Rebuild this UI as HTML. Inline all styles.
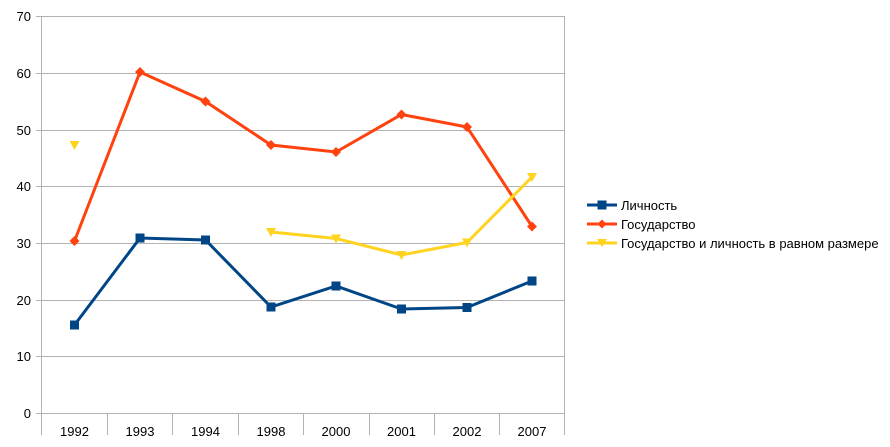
<!DOCTYPE html><html><head><meta charset="utf-8"><style>body{margin:0;background:#fff}svg{display:block}text{font-family:"Liberation Sans",sans-serif;font-size:13px;fill:#000}</style></head><body>
<svg width="890" height="447" viewBox="0 0 890 447">
<g stroke="#b3b3b3" stroke-width="1">
<line x1="36" y1="16.5" x2="565" y2="16.5"/><line x1="36" y1="73.5" x2="565" y2="73.5"/><line x1="36" y1="130.5" x2="565" y2="130.5"/><line x1="36" y1="186.5" x2="565" y2="186.5"/><line x1="36" y1="243.5" x2="565" y2="243.5"/><line x1="36" y1="300.5" x2="565" y2="300.5"/><line x1="36" y1="356.5" x2="565" y2="356.5"/><line x1="36" y1="413.5" x2="565" y2="413.5"/>
<line x1="41.5" y1="16" x2="41.5" y2="435"/>
<line x1="107.5" y1="413" x2="107.5" y2="435"/><line x1="172.5" y1="413" x2="172.5" y2="435"/><line x1="238.5" y1="413" x2="238.5" y2="435"/><line x1="303.5" y1="413" x2="303.5" y2="435"/><line x1="369.5" y1="413" x2="369.5" y2="435"/><line x1="434.5" y1="413" x2="434.5" y2="435"/><line x1="499.5" y1="413" x2="499.5" y2="435"/><line x1="564.5" y1="16" x2="564.5" y2="435"/>
</g>
<g text-anchor="end"><text x="31" y="21">70</text><text x="31" y="78">60</text><text x="31" y="135">50</text><text x="31" y="191">40</text><text x="31" y="248">30</text><text x="31" y="305">20</text><text x="31" y="361">10</text><text x="31" y="418">0</text></g>
<g text-anchor="middle"><text x="74.5" y="436">1992</text><text x="140" y="436">1993</text><text x="205.5" y="436">1994</text><text x="271" y="436">1998</text><text x="336" y="436">2000</text><text x="401.5" y="436">2001</text><text x="467" y="436">2002</text><text x="532" y="436">2007</text></g>
<polyline fill="none" stroke="#004586" stroke-width="3" points="74.5,325 140,238 205.5,240 271,307 336,286 401.5,309 467,307.5 532,281"/>
<g fill="#004586"><rect x="70" y="320.5" width="9" height="9"/><rect x="135.5" y="233.5" width="9" height="9"/><rect x="201" y="235.5" width="9" height="9"/><rect x="266.5" y="302.5" width="9" height="9"/><rect x="331.5" y="281.5" width="9" height="9"/><rect x="397" y="304.5" width="9" height="9"/><rect x="462.5" y="303" width="9" height="9"/><rect x="527.5" y="276.5" width="9" height="9"/></g>
<polyline fill="none" stroke="#ff420e" stroke-width="3" points="74.5,241 140,72 205.5,101.5 271,145 336,152 401.5,114.5 467,127 532,226.5"/>
<g fill="#ff420e"><path d="M74.5,236l5,5-5,5-5-5z"/><path d="M140,67l5,5-5,5-5-5z"/><path d="M205.5,96.5l5,5-5,5-5-5z"/><path d="M271,140l5,5-5,5-5-5z"/><path d="M336,147l5,5-5,5-5-5z"/><path d="M401.5,109.5l5,5-5,5-5-5z"/><path d="M467,122l5,5-5,5-5-5z"/><path d="M532,221.5l5,5-5,5-5-5z"/></g>
<polyline fill="none" stroke="#ffd320" stroke-width="3" points="271,232 336,238.5 401.5,255 467,242.5 532,177"/>
<g fill="#ffd320"><path d="M69.5,141h10l-5,9z"/><path d="M266,228h10l-5,9z"/><path d="M331,234.5h10l-5,9z"/><path d="M396.5,251h10l-5,9z"/><path d="M462,238.5h10l-5,9z"/><path d="M527,173h10l-5,9z"/></g>
<line x1="587" y1="205" x2="617" y2="205" stroke="#004586" stroke-width="3"/><rect x="597.5" y="200.5" width="9" height="9" fill="#004586"/>
<line x1="587" y1="224" x2="617" y2="224" stroke="#ff420e" stroke-width="3"/><path d="M602,219.5l4.5,4.5-4.5,4.5-4.5-4.5z" fill="#ff420e"/>
<line x1="587" y1="243" x2="617" y2="243" stroke="#ffd320" stroke-width="3"/><path d="M597,239h10l-5,8z" fill="#ffd320"/>
<text x="621" y="210">Личность</text><text x="621" y="229">Государство</text><text x="621" y="248">Государство и личность в равном размере</text>
</svg></body></html>
